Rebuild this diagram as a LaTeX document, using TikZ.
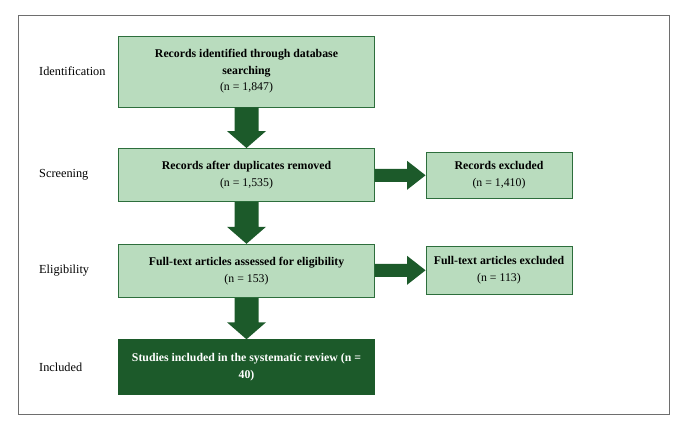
\documentclass[tikz,border=0pt]{standalone}
\usepackage{fontspec}
\setmainfont{Liberation Serif}
\usetikzlibrary{calc}
\definecolor{boxfill}{RGB}{185,220,190}
\definecolor{boxline}{RGB}{45,110,60}
\definecolor{arrowc}{RGB}{28,90,42}
\definecolor{framec}{RGB}{110,110,110}
\tikzset{
  stagebox/.style={draw=boxline, line width=0.9pt, fill=boxfill, rectangle, align=center,
    font=\fontsize{11.8}{16.5}\selectfont, inner sep=0pt},
  finalbox/.style={stagebox, fill=arrowc, draw=arrowc, text=white},
  stagelabel/.style={anchor=west, font=\fontsize{12.3}{14}\selectfont, inner sep=0pt},
  blockarrow/.style={fill=arrowc, draw=none}
}
\begin{document}
\begin{tikzpicture}[x=1pt, y=-1pt]
\useasboundingbox (0,0) rectangle (681,421);
\draw[framec, line width=0.8pt] (18,15) rectangle (669,414);

\node[stagebox, minimum width=256pt, minimum height=71pt] (b1) at (246.5,71.5)
  {\textbf{Records identified through database}\\\textbf{searching}\\(n = 1,847)};
\node[stagebox, minimum width=256pt, minimum height=53pt] (b2) at (246.5,175)
  {\textbf{Records after duplicates removed}\\(n = 1,535)};
\node[stagebox, minimum width=146pt, minimum height=46.5pt] (r1) at (499,175.3)
  {\textbf{Records excluded}\\(n = 1,410)};
\node[stagebox, minimum width=256pt, minimum height=53.5pt] (b3) at (246.5,271)
  {\textbf{Full-text articles assessed for eligibility}\\(n = 153)};
\node[stagebox, minimum width=146pt, minimum height=47.5pt] (r2) at (499,270.3)
  {\textbf{Full-text articles excluded}\\(n = 113)};
\node[finalbox, minimum width=256pt, minimum height=54.5pt] (b4) at (246.5,367)
  {\textbf{Studies included in the systematic review (n =}\\\textbf{40)}};

\node[stagelabel] (l1) at (39,71) {Identification};
\node[stagelabel] (l2) at (39,175) {Screening};
\node[stagelabel] (l3) at (39,271) {Eligibility};
\node[stagelabel] (l4) at (39,367) {Included};

% vertical block arrows
\foreach \a/\b in {b1/b2, b2/b3, b3/b4}{
  \fill[blockarrow] let \p1=(\a.south), \p2=(\b.north) in
    (\x1-12pt,\y1) -- (\x1+12pt,\y1) -- (\x1+12pt,\y2+17pt) -- (\x1+19.5pt,\y2+17pt)
    -- (\x1,\y2) -- (\x1-19.5pt,\y2+17pt) -- (\x1-12pt,\y2+17pt) -- cycle;
}
% horizontal block arrows
\foreach \a/\b in {b2/r1, b3/r2}{
  \fill[blockarrow] let \p1=(\a.east), \p2=(\b.west) in
    (\x1,\y2+6.5pt) -- (\x1,\y2-6.5pt) -- (\x2-18.5pt,\y2-6.5pt) -- (\x2-18.5pt,\y2-14.5pt)
    -- (\x2,\y2) -- (\x2-18.5pt,\y2+14.5pt) -- (\x2-18.5pt,\y2+6.5pt) -- cycle;
}
\end{tikzpicture}
\end{document}
